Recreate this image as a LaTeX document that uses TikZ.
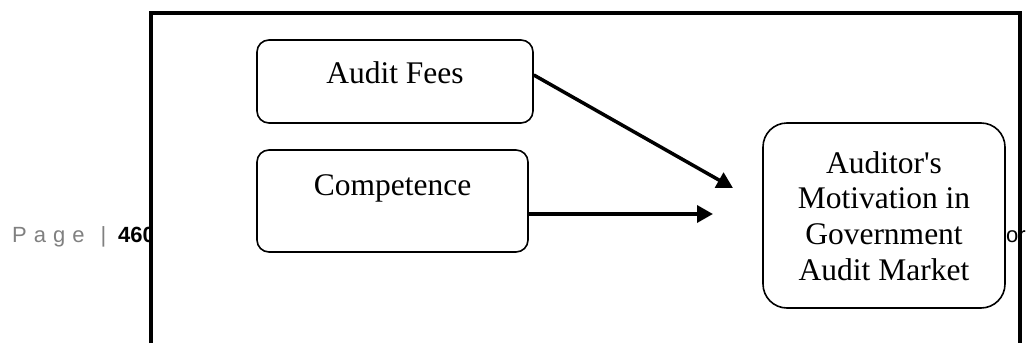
\documentclass[tikz,border=0pt]{standalone}
\usepackage{fontspec}
\newfontfamily\boxfont{Liberation Serif}
\newfontfamily\footfont{Liberation Sans}
\usetikzlibrary{arrows.meta}
\definecolor{footgray}{HTML}{808080}
\tikzset{
  box/.style={draw=black, line width=1.6pt, rounded corners=12pt, inner sep=0pt, fill=white},
  bigbox/.style={draw=black, line width=1.6pt, rounded corners=24pt, inner sep=0pt, fill=white},
  lbl/.style={anchor=base, inner sep=0pt, font=\boxfont\fontsize{31.5}{36}\selectfont},
  conn/.style={line width=3.5pt, -{Triangle[length=16pt,width=17pt]}},
  frame/.style={line width=4pt},
  foot/.style={anchor=base west, inner sep=0pt, font=\footfont\fontsize{22}{26}\selectfont}
}
\begin{document}
\begin{tikzpicture}[x=1pt,y=-1pt]
\useasboundingbox (0,0) rectangle (1026,343);
% footer text (partly hidden by frame)
\node[foot, text=footgray] (pg) at (12,242) {P\hspace{7pt}a\hspace{7pt}g\hspace{7pt}e\hspace{16pt}|};
\node[foot] (num) at (118,242) {\textbf{460}};
\node[foot] (ors) at (1006,242) {ors};
% white mask so frame cuts footer
\fill[white] (151,150) rectangle (1003,300);
% boxes
\node[box, minimum width=276pt, minimum height=83pt] (fees) at (395,81.5) {};
\node[lbl] (feest) at (395,83) {Audit Fees};
\node[box, minimum width=271pt, minimum height=102pt] (comp) at (392.5,201) {};
\node[lbl] (compt) at (392.5,195) {Competence};
\node[bigbox, minimum width=242pt, minimum height=185pt] (mot) at (884,215.5) {};
\node[lbl] (mot1) at (884,173) {Auditor's};
\node[lbl] (mot2) at (884,208.5) {Motivation in};
\node[lbl] (mot3) at (884,244) {Government};
\node[lbl] (mot4) at (884,280) {Audit Market};
% connectors
\coordinate (e1) at (733,188);
\coordinate (e2) at (713,214);
\draw[conn] (fees.east |- 0,75) -- (e1);
\draw[conn] (comp.east |- 0,214) -- (e2);
% frame
\draw[frame] (151,343) -- (151,13) -- (1020,13) -- (1020,343);
\end{tikzpicture}
\end{document}
